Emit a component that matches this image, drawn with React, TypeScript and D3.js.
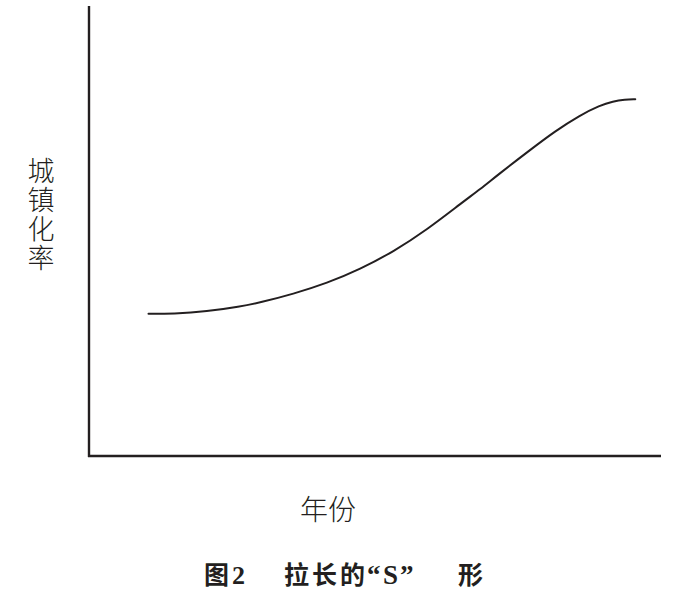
import * as d3 from "d3";

// abstract units: x = time (0..100), y = urbanization rate (0..100)
const years = [10.4, 14.7, 20.6, 26.4, 29.9, 35.7, 41.6, 47.4, 53.2, 59.0, 65.4, 68.4, 71.3, 77.1, 81.5, 85.8, 89.3, 91.6, 93.7, 95.5];
const rates = [31.6, 31.6, 32.1, 33.2, 34.1, 36.0, 38.4, 41.5, 45.4, 50.2, 56.5, 59.3, 62.3, 68.0, 72.2, 75.7, 77.9, 78.8, 79.2, 79.3];
const yLabel = "城镇化率";
const xLabel = "年份";

const WIDTH = 690;
const HEIGHT = 595;
const INK = "#231f20";
const CJK = '"Noto Sans CJK SC", "Noto Sans", sans-serif';
const LATIN = '"Liberation Serif", "Times New Roman", serif';

export default function App() {
  const x = d3.scaleLinear().domain([0, 100]).range([89, 661]);
  const y = d3.scaleLinear().domain([0, 100]).range([456, 6]);

  const points = years.map((t, i) => [t, rates[i]] as [number, number]);
  // basis smooths out reading noise in the hand-picked points
  const line = d3
    .line<[number, number]>()
    .x((d) => x(d[0]))
    .y((d) => y(d[1]))
    .curve(d3.curveBasis);

  const [x0, x1] = x.range();
  const [y0, y1] = y.range();

  return (
    <svg
      width={WIDTH}
      height={HEIGHT}
      style={{ position: "absolute", left: 0, top: 0, background: "#fff" }}
    >
      <rect width={WIDTH} height={HEIGHT} fill="#fff" />
      {/* axes */}
      <line x1={x0} x2={x0} y1={y1} y2={y0 + 1} stroke={INK} strokeWidth={2.4} />
      <line x1={x0 - 1} x2={x1} y1={y0} y2={y0} stroke={INK} strokeWidth={2.4} />

      <path d={line(points) ?? ""} fill="none" stroke={INK} strokeWidth={2} strokeLinecap="round" />

      {/* y label, set vertically */}
      <text
        x={41}
        y={157}
        fontFamily={CJK}
        fontWeight={300}
        fontSize={27}
        fill={INK}
        letterSpacing={2}
        style={{ writingMode: "vertical-rl", textOrientation: "upright" }}
      >
        {yLabel}
      </text>

      <text x={328} y={520} textAnchor="middle" fontFamily={CJK} fontWeight={300} fontSize={28} fill={INK}>
        {xLabel}
      </text>

      {/* caption */}
      <g fill={INK} fontWeight={700}>
        <text x={204} y={584} fontFamily={CJK} fontSize={25}>图</text>
        <text x={232} y={584} fontFamily={LATIN} fontSize={26}>2</text>
        <text x={284} y={584} fontFamily={CJK} fontSize={25} letterSpacing={3}>拉长的</text>
        <text x={367} y={584} fontFamily={LATIN} fontSize={27}>“</text>
        <text x={383} y={584} fontFamily={LATIN} fontSize={27}>S</text>
        <text x={400} y={584} fontFamily={LATIN} fontSize={27}>”</text>
        <text x={458} y={584} fontFamily={CJK} fontSize={25}>形</text>
      </g>
    </svg>
  );
}
